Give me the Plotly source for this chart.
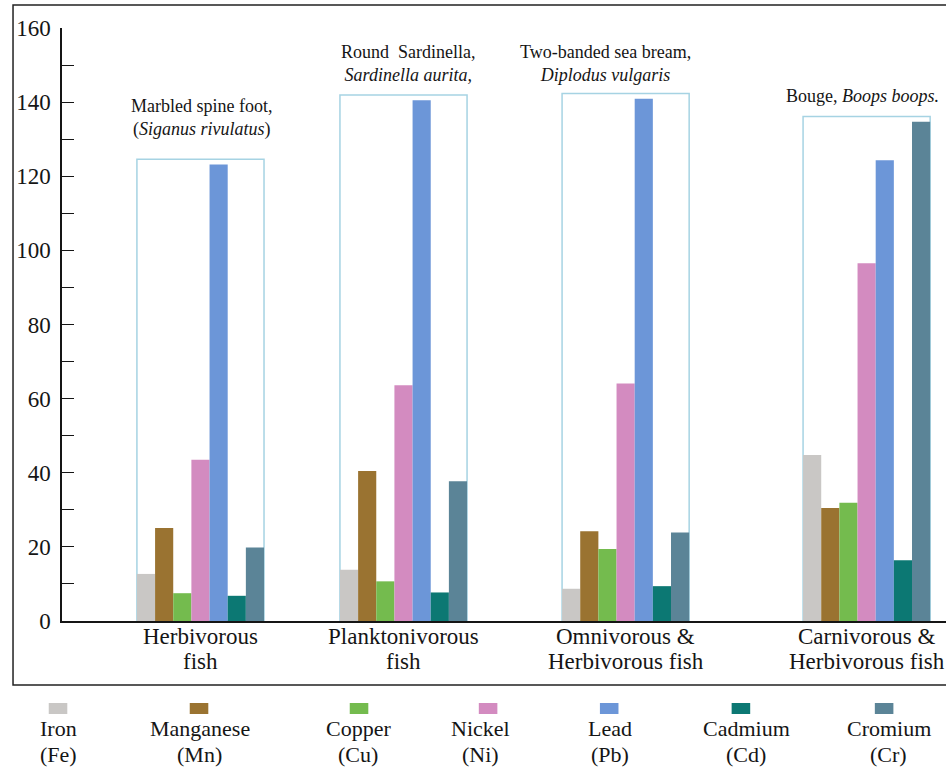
import plotly.graph_objects as go

# Heavy metal concentrations by fish feeding group
groups = [("Herbivorous", "fish"), ("Planktonivorous", "fish"),
          ("Omnivorous &", "Herbivorous fish"), ("Carnivorous &", "Herbivorous fish")]
species = ["Marbled spine foot,<br>(<i>Siganus rivulatus</i>)",
           "Round  Sardinella,<br><i>Sardinella aurita,</i>",
           "Two-banded sea bream,<br><i>Diplodus vulgaris</i>",
           "Bouge, <i>Boops boops.</i>"]
metals = ["Iron", "Manganese", "Copper", "Nickel", "Lead", "Cadmium", "Cromium"]
symbols = ["(Fe)", "(Mn)", "(Cu)", "(Ni)", "(Pb)", "(Cd)", "(Cr)"]

iron = [12.7, 13.8, 8.7, 44.8]
manganese = [25.1, 40.5, 24.2, 30.5]
copper = [7.5, 10.7, 19.4, 31.9]
nickel = [43.5, 63.6, 64.1, 96.5]
lead = [123.2, 140.5, 140.9, 124.3]
cadmium = [6.8, 7.7, 9.4, 16.4]
cromium = [19.8, 37.7, 23.9, 134.7]

series = [iron, manganese, copper, nickel, lead, cadmium, cromium]
colors = ["#c9c7c5", "#9a7331", "#74bb4e", "#d38bc0", "#6c96d8", "#0c7873", "#5b8497"]

# horizontal placement of the groups along the category axis
group_pos = [0.0, 1.0, 2.094, 3.281]
species_xshift = [1, 4, -20, -4]
species_yshift = [17, 8, 7, 9]
# legend columns (paper x) for swatches and labels
swatch_x = [-0.0045, 0.155, 0.336, 0.482, 0.619, 0.768, 0.930]
label_x = [-0.0045, 0.156, 0.335, 0.473, 0.620, 0.774, 0.935]

SERIF = "Liberation Serif, Times New Roman, serif"
INK = "#151515"

fig = go.Figure()
for name, sym, vals, col in zip(metals, symbols, series, colors):
    fig.add_trace(go.Bar(x=group_pos, y=vals, name=f"{name} {sym}",
                         marker=dict(color=col, line=dict(width=0)),
                         showlegend=False))

half = (1 - 0.374) / 2
tops = [max(v) + 1.4 for v in zip(*series)]
for gx, top in zip(group_pos, tops):
    fig.add_shape(type="rect", xref="x", yref="y", x0=gx - half, x1=gx + half,
                  y0=0, y1=top, line=dict(color="#a6d3e3", width=1.5),
                  fillcolor="rgba(0,0,0,0)", layer="below")

for gx, top, txt, dx, dy in zip(group_pos, tops, species, species_xshift, species_yshift):
    fig.add_annotation(x=gx, y=top, xref="x", yref="y", text=txt, showarrow=False,
                       xanchor="center", yanchor="bottom", xshift=dx, yshift=dy,
                       align="center", font=dict(family=SERIF, size=18, color=INK))

# two-line category labels under each group
for gx, (l1, l2) in zip(group_pos, groups):
    for txt, yy in ((l1, -0.0253), (l2, -0.0691)):
        fig.add_annotation(x=gx, y=yy, xref="x", yref="paper", text=txt, showarrow=False,
                           xanchor="center", yanchor="middle",
                           font=dict(family=SERIF, size=23, color=INK))

# outer frame
fig.add_shape(type="rect", xref="paper", yref="paper", x0=-0.0554, x1=1.02,
              y0=-0.108, y1=1.0388, line=dict(color="#222", width=1.5))

# legend: swatch above a two-line label
for sx, lx, name, sym, col in zip(swatch_x, label_x, metals, symbols, colors):
    fig.add_shape(type="rect", xref="paper", yref="paper",
                  x0=sx - 0.0105, x1=sx + 0.0105, y0=-0.1568, y1=-0.1383,
                  fillcolor=col, line=dict(width=0))
    for txt, yy in ((name, -0.1821), (sym, -0.2243)):
        fig.add_annotation(x=lx, y=yy, xref="paper", yref="paper", text=txt,
                           showarrow=False, xanchor="center", yanchor="middle",
                           font=dict(family=SERIF, size=22, color=INK))

fig.update_layout(
    width=946, height=773,
    margin=dict(l=62, r=0, t=28, b=152),
    paper_bgcolor="white", plot_bgcolor="white",
    barmode="group", bargap=0.374, bargroupgap=0,
    font=dict(family=SERIF, color=INK),
    xaxis=dict(range=[-0.682, 3.672], showticklabels=False, showgrid=False,
               zeroline=False, showline=True, linecolor=INK, linewidth=1.5, ticks=""),
    yaxis=dict(range=[0, 160], dtick=20, showgrid=False, zeroline=False,
               showline=True, linecolor=INK, linewidth=1.5,
               ticks="inside", ticklen=12, tickcolor=INK, tickwidth=1.2,
               ticklabelstandoff=5,
               minor=dict(dtick=10, ticks="inside", ticklen=12, tickcolor=INK, tickwidth=1.2),
               tickfont=dict(family=SERIF, size=23, color=INK)),
)

fig.write_html("out.html")
